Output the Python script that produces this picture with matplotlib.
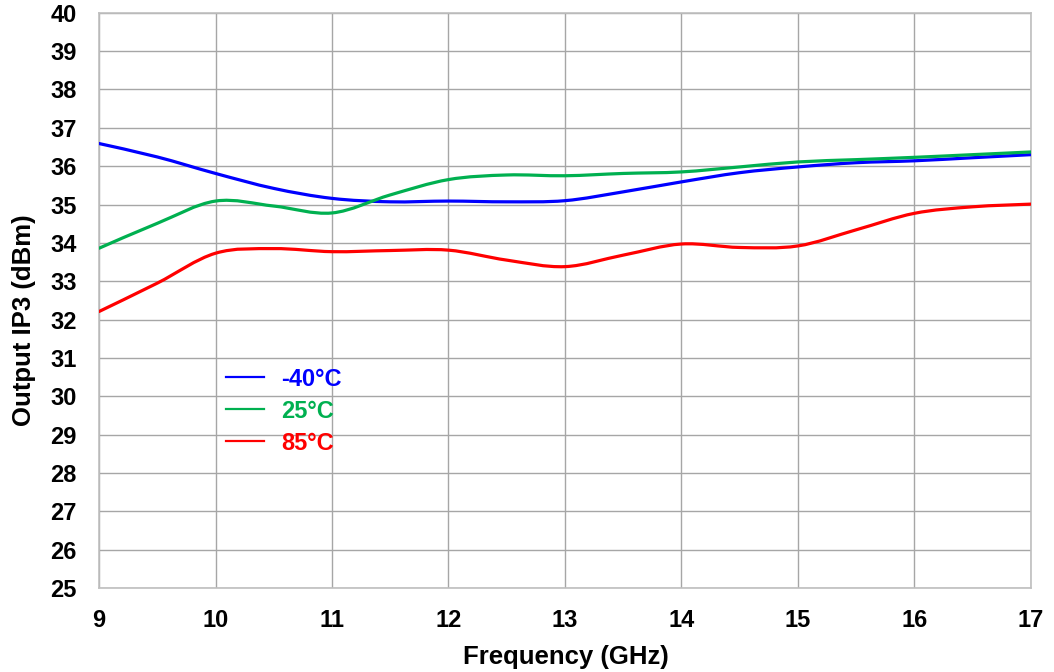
import numpy as np
import matplotlib
matplotlib.use("Agg")
import matplotlib.pyplot as plt
from matplotlib.path import Path
from matplotlib.patches import PathPatch
from matplotlib.lines import Line2D

plt.rcParams['font.family'] = ['Liberation Sans', 'DejaVu Sans']
plt.rcParams['font.weight'] = 'bold'

freq = [9, 9.5, 10, 10.5, 11, 11.5, 12, 12.5, 13, 13.5, 14, 14.5, 15, 15.5, 16, 16.5, 17]
ip3_m40 = [36.59, 36.24, 35.81, 35.42, 35.16, 35.07, 35.09, 35.07, 35.10, 35.33,
           35.59, 35.83, 35.98, 36.09, 36.14, 36.22, 36.30]
ip3_25 = [33.86, 34.51, 35.09, 34.96, 34.78, 35.25, 35.65, 35.77, 35.75, 35.81,
          35.85, 35.98, 36.11, 36.17, 36.23, 36.30, 36.37]
ip3_85 = [32.21, 32.95, 33.73, 33.85, 33.77, 33.80, 33.81, 33.55, 33.38, 33.68,
          33.97, 33.88, 33.92, 34.34, 34.77, 34.94, 35.01]

labels = ['-40°C', '25°C', '85°C']
colors = ['#0000ff', '#00b050', '#ff0000']


def smooth_path(x, y):
    # Catmull-Rom style smoothing like a spreadsheet "smoothed line"
    x = np.asarray(x, float)
    y = np.asarray(y, float)
    verts = [(x[0], y[0])]
    codes = [Path.MOVETO]
    n = len(x)
    for i in range(n - 1):
        i0 = max(i - 1, 0)
        i3 = min(i + 2, n - 1)
        c1 = (x[i] + (x[i + 1] - x[i0]) / 6, y[i] + (y[i + 1] - y[i0]) / 6)
        c2 = (x[i + 1] - (x[i3] - x[i]) / 6, y[i + 1] - (y[i3] - y[i]) / 6)
        verts += [c1, c2, (x[i + 1], y[i + 1])]
        codes += [Path.CURVE4] * 3
    return Path(verts, codes)


fig = plt.figure(figsize=(10.54, 6.72), dpi=100)
ax = fig.add_axes([0.094, 0.125, 0.884, 0.856])

handles = []
for ys, lab, c in zip([ip3_m40, ip3_25, ip3_85], labels, colors):
    patch = PathPatch(smooth_path(freq, ys), facecolor='none', edgecolor=c,
                      lw=2.3, capstyle='round', zorder=3)
    ax.add_patch(patch)
    handles.append(Line2D([], [], color=c, lw=1.6, label=lab))

ax.set_xlim(9, 17)
ax.set_ylim(25, 40)
ax.set_xticks(range(9, 18))
ax.set_yticks(range(25, 41))
ax.grid(True, color='#a6a6a6', lw=1.0)
ax.set_axisbelow(True)
for s in ax.spines.values():
    s.set_color('#bfbfbf')
    s.set_linewidth(1.2)
ax.tick_params(length=0, labelsize=17)
ax.tick_params(axis='x', pad=15)
ax.tick_params(axis='y', pad=16)

ax.set_xlabel('Frequency (GHz)', fontsize=18.5, fontweight='bold', va='center')
ax.xaxis.set_label_coords(0.501, -0.12)
ax.set_ylabel('Output IP3 (dBm)', fontsize=18.5, fontweight='bold', va='center')
ax.yaxis.set_label_coords(-0.0805, 0.466)

leg = ax.legend(handles=handles, loc='center left', bbox_to_anchor=(0.136, 0.3076),
                frameon=False, fontsize=17, labelcolor='linecolor',
                handlelength=1.6, handletextpad=0.75, labelspacing=0.38,
                borderpad=0, borderaxespad=0)
for t in leg.get_texts():
    t.set_fontweight('bold')

fig.savefig('out.png', dpi=100)
